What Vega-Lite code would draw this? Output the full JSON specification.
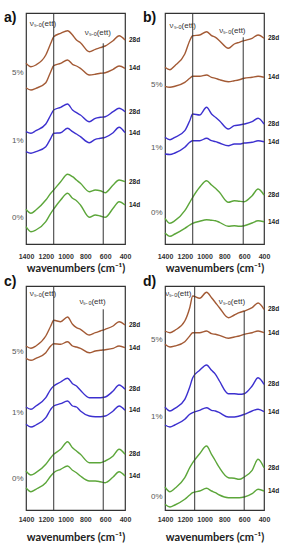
{
"$schema":"https://vega.github.io/schema/vega-lite/v6.json",
"padding":{"left":3,"top":9,"right":0,"bottom":0},
"background":"white",
"bounds":"flush",
"columns":2,
"spacing":{"row":42,"column":40},
"config":{
 "view":{"stroke":"#333","strokeWidth":1.2},
 "axis":{"grid":false,"ticks":false,"domain":false,"labelFont":"Liberation Sans"},
 "axisX":{"labelFontSize":7,"labelFontWeight":"bold","labelFlush":false,"labelOverlap":false,"format":"d","labelColor":"#333","titleFont":"Lato","titleFontSize":11,"titleFontWeight":"bold","titleColor":"#222"},
 "axisY":{"labelFontSize":8,"labelColor":"#555","labelPadding":3},
 "title":{"anchor":"start","frame":"group","fontSize":14,"fontWeight":"bold","font":"Liberation Sans","color":"#111"}
},
"datasets":{
"vlines":[
{"p":"a","x":1120,"top":231},{"p":"a","x":620,"top":200.7},
{"p":"b","x":1120,"top":231},{"p":"b","x":610,"top":206.7},
{"p":"c","x":1120,"top":224},{"p":"c","x":620,"top":200.7},
{"p":"d","x":1100,"top":224},{"p":"d","x":600,"top":199}
],
"ann":[
{"p":"a","x":1229,"y":220,"t":"νₛ₋ₒ(ett)"},{"p":"a","x":675,"y":210.7,"t":"νₛ₋ₒ(ett)"},
{"p":"b","x":1221,"y":217.7,"t":"νₛ₋ₒ(ett)"},{"p":"b","x":719,"y":213.3,"t":"νₛ₋ₒ(ett)"},
{"p":"c","x":1229,"y":216.3,"t":"νₛ₋ₒ(ett)"},{"p":"c","x":728,"y":208.3,"t":"νₛ₋ₒ(ett)"},
{"p":"d","x":1266,"y":215.7,"t":"νₛ₋ₒ(ett)"},{"p":"d","x":724,"y":208.3,"t":"νₛ₋ₒ(ett)"}
],
"curves":[
{"p":"a","c":"5%","d":"28d","x":1400,"y":180.7},{"p":"a","c":"5%","d":"28d","x":1350,"y":177.3},{"p":"a","c":"5%","d":"28d","x":1300,"y":179},{"p":"a","c":"5%","d":"28d","x":1200,"y":189},{"p":"a","c":"5%","d":"28d","x":1150,"y":200.7},{"p":"a","c":"5%","d":"28d","x":1120,"y":207.3},{"p":"a","c":"5%","d":"28d","x":1050,"y":210.7},{"p":"a","c":"5%","d":"28d","x":980,"y":213.3},{"p":"a","c":"5%","d":"28d","x":930,"y":209},{"p":"a","c":"5%","d":"28d","x":890,"y":204},{"p":"a","c":"5%","d":"28d","x":850,"y":201.3},{"p":"a","c":"5%","d":"28d","x":760,"y":192.3},{"p":"a","c":"5%","d":"28d","x":700,"y":194.7},{"p":"a","c":"5%","d":"28d","x":650,"y":196.3},{"p":"a","c":"5%","d":"28d","x":600,"y":198},{"p":"a","c":"5%","d":"28d","x":520,"y":203.3},{"p":"a","c":"5%","d":"28d","x":460,"y":208.3},{"p":"a","c":"5%","d":"28d","x":400,"y":204},
{"p":"a","c":"5%","d":"14d","x":1400,"y":156.3},{"p":"a","c":"5%","d":"14d","x":1350,"y":154},{"p":"a","c":"5%","d":"14d","x":1300,"y":155.7},{"p":"a","c":"5%","d":"14d","x":1200,"y":161.3},{"p":"a","c":"5%","d":"14d","x":1150,"y":172.3},{"p":"a","c":"5%","d":"14d","x":1120,"y":178.3},{"p":"a","c":"5%","d":"14d","x":1050,"y":180.7},{"p":"a","c":"5%","d":"14d","x":980,"y":184},{"p":"a","c":"5%","d":"14d","x":930,"y":179.7},{"p":"a","c":"5%","d":"14d","x":890,"y":178},{"p":"a","c":"5%","d":"14d","x":850,"y":175.7},{"p":"a","c":"5%","d":"14d","x":760,"y":169},{"p":"a","c":"5%","d":"14d","x":700,"y":169.7},{"p":"a","c":"5%","d":"14d","x":650,"y":170.7},{"p":"a","c":"5%","d":"14d","x":600,"y":171.3},{"p":"a","c":"5%","d":"14d","x":520,"y":174.7},{"p":"a","c":"5%","d":"14d","x":460,"y":178},{"p":"a","c":"5%","d":"14d","x":400,"y":175.7},
{"p":"a","c":"1%","d":"28d","x":1400,"y":112.3},{"p":"a","c":"1%","d":"28d","x":1350,"y":110.7},{"p":"a","c":"1%","d":"28d","x":1300,"y":113.3},{"p":"a","c":"1%","d":"28d","x":1200,"y":120},{"p":"a","c":"1%","d":"28d","x":1150,"y":129},{"p":"a","c":"1%","d":"28d","x":1120,"y":134},{"p":"a","c":"1%","d":"28d","x":1050,"y":136.7},{"p":"a","c":"1%","d":"28d","x":980,"y":140},{"p":"a","c":"1%","d":"28d","x":930,"y":134},{"p":"a","c":"1%","d":"28d","x":890,"y":131.3},{"p":"a","c":"1%","d":"28d","x":850,"y":129},{"p":"a","c":"1%","d":"28d","x":760,"y":122.3},{"p":"a","c":"1%","d":"28d","x":700,"y":125.7},{"p":"a","c":"1%","d":"28d","x":650,"y":126.7},{"p":"a","c":"1%","d":"28d","x":600,"y":127.3},{"p":"a","c":"1%","d":"28d","x":520,"y":132.3},{"p":"a","c":"1%","d":"28d","x":460,"y":135.7},{"p":"a","c":"1%","d":"28d","x":400,"y":132.3},
{"p":"a","c":"1%","d":"14d","x":1400,"y":92.3},{"p":"a","c":"1%","d":"14d","x":1350,"y":90.7},{"p":"a","c":"1%","d":"14d","x":1300,"y":92.3},{"p":"a","c":"1%","d":"14d","x":1200,"y":97.3},{"p":"a","c":"1%","d":"14d","x":1150,"y":105.7},{"p":"a","c":"1%","d":"14d","x":1120,"y":110.7},{"p":"a","c":"1%","d":"14d","x":1050,"y":111.3},{"p":"a","c":"1%","d":"14d","x":980,"y":115.7},{"p":"a","c":"1%","d":"14d","x":930,"y":112.3},{"p":"a","c":"1%","d":"14d","x":890,"y":110},{"p":"a","c":"1%","d":"14d","x":850,"y":107.3},{"p":"a","c":"1%","d":"14d","x":760,"y":101.3},{"p":"a","c":"1%","d":"14d","x":700,"y":104.7},{"p":"a","c":"1%","d":"14d","x":650,"y":105.7},{"p":"a","c":"1%","d":"14d","x":600,"y":106.7},{"p":"a","c":"1%","d":"14d","x":520,"y":111.3},{"p":"a","c":"1%","d":"14d","x":460,"y":116.7},{"p":"a","c":"1%","d":"14d","x":400,"y":111.3},
{"p":"a","c":"0%","d":"28d","x":1400,"y":34.7},{"p":"a","c":"0%","d":"28d","x":1350,"y":30.7},{"p":"a","c":"0%","d":"28d","x":1300,"y":34},{"p":"a","c":"0%","d":"28d","x":1200,"y":44},{"p":"a","c":"0%","d":"28d","x":1150,"y":50.7},{"p":"a","c":"0%","d":"28d","x":1120,"y":54},{"p":"a","c":"0%","d":"28d","x":1050,"y":62.3},{"p":"a","c":"0%","d":"28d","x":980,"y":69.7},{"p":"a","c":"0%","d":"28d","x":930,"y":67.3},{"p":"a","c":"0%","d":"28d","x":890,"y":64},{"p":"a","c":"0%","d":"28d","x":850,"y":60.7},{"p":"a","c":"0%","d":"28d","x":760,"y":52.3},{"p":"a","c":"0%","d":"28d","x":700,"y":54},{"p":"a","c":"0%","d":"28d","x":650,"y":53.3},{"p":"a","c":"0%","d":"28d","x":600,"y":51.3},{"p":"a","c":"0%","d":"28d","x":520,"y":59},{"p":"a","c":"0%","d":"28d","x":460,"y":64},{"p":"a","c":"0%","d":"28d","x":400,"y":62.3},
{"p":"a","c":"0%","d":"14d","x":1400,"y":17.3},{"p":"a","c":"0%","d":"14d","x":1350,"y":12.3},{"p":"a","c":"0%","d":"14d","x":1300,"y":14},{"p":"a","c":"0%","d":"14d","x":1200,"y":22.3},{"p":"a","c":"0%","d":"14d","x":1150,"y":30.7},{"p":"a","c":"0%","d":"14d","x":1120,"y":35},{"p":"a","c":"0%","d":"14d","x":1050,"y":44},{"p":"a","c":"0%","d":"14d","x":980,"y":50.7},{"p":"a","c":"0%","d":"14d","x":930,"y":45.7},{"p":"a","c":"0%","d":"14d","x":890,"y":43.3},{"p":"a","c":"0%","d":"14d","x":850,"y":39},{"p":"a","c":"0%","d":"14d","x":760,"y":26.7},{"p":"a","c":"0%","d":"14d","x":700,"y":29},{"p":"a","c":"0%","d":"14d","x":650,"y":28},{"p":"a","c":"0%","d":"14d","x":600,"y":26.7},{"p":"a","c":"0%","d":"14d","x":520,"y":35.7},{"p":"a","c":"0%","d":"14d","x":460,"y":42.3},{"p":"a","c":"0%","d":"14d","x":400,"y":39},
{"p":"b","c":"5%","d":"28d","x":1400,"y":176.7},{"p":"b","c":"5%","d":"28d","x":1350,"y":174.3},{"p":"b","c":"5%","d":"28d","x":1300,"y":178.3},{"p":"b","c":"5%","d":"28d","x":1200,"y":190},{"p":"b","c":"5%","d":"28d","x":1150,"y":203.3},{"p":"b","c":"5%","d":"28d","x":1120,"y":208.3},{"p":"b","c":"5%","d":"28d","x":1050,"y":209},{"p":"b","c":"5%","d":"28d","x":980,"y":212.3},{"p":"b","c":"5%","d":"28d","x":930,"y":208.3},{"p":"b","c":"5%","d":"28d","x":890,"y":206.7},{"p":"b","c":"5%","d":"28d","x":850,"y":203.3},{"p":"b","c":"5%","d":"28d","x":760,"y":195.7},{"p":"b","c":"5%","d":"28d","x":700,"y":200},{"p":"b","c":"5%","d":"28d","x":650,"y":201.7},{"p":"b","c":"5%","d":"28d","x":600,"y":203.3},{"p":"b","c":"5%","d":"28d","x":520,"y":205.7},{"p":"b","c":"5%","d":"28d","x":460,"y":209},{"p":"b","c":"5%","d":"28d","x":400,"y":205.7},
{"p":"b","c":"5%","d":"14d","x":1400,"y":157.7},{"p":"b","c":"5%","d":"14d","x":1350,"y":156.7},{"p":"b","c":"5%","d":"14d","x":1300,"y":157.7},{"p":"b","c":"5%","d":"14d","x":1200,"y":161.7},{"p":"b","c":"5%","d":"14d","x":1150,"y":165.7},{"p":"b","c":"5%","d":"14d","x":1120,"y":167.7},{"p":"b","c":"5%","d":"14d","x":1050,"y":167.7},{"p":"b","c":"5%","d":"14d","x":980,"y":169},{"p":"b","c":"5%","d":"14d","x":930,"y":166.7},{"p":"b","c":"5%","d":"14d","x":890,"y":165.7},{"p":"b","c":"5%","d":"14d","x":850,"y":164.3},{"p":"b","c":"5%","d":"14d","x":760,"y":162.3},{"p":"b","c":"5%","d":"14d","x":700,"y":163.3},{"p":"b","c":"5%","d":"14d","x":650,"y":164.3},{"p":"b","c":"5%","d":"14d","x":600,"y":165.7},{"p":"b","c":"5%","d":"14d","x":520,"y":166.7},{"p":"b","c":"5%","d":"14d","x":460,"y":167.7},{"p":"b","c":"5%","d":"14d","x":400,"y":166.7},
{"p":"b","c":"1%","d":"28d","x":1400,"y":106.7},{"p":"b","c":"1%","d":"28d","x":1350,"y":104.3},{"p":"b","c":"1%","d":"28d","x":1300,"y":106.7},{"p":"b","c":"1%","d":"28d","x":1200,"y":113.3},{"p":"b","c":"1%","d":"28d","x":1150,"y":123.3},{"p":"b","c":"1%","d":"28d","x":1120,"y":130},{"p":"b","c":"1%","d":"28d","x":1050,"y":129},{"p":"b","c":"1%","d":"28d","x":980,"y":136.7},{"p":"b","c":"1%","d":"28d","x":930,"y":130},{"p":"b","c":"1%","d":"28d","x":890,"y":126.7},{"p":"b","c":"1%","d":"28d","x":850,"y":123.3},{"p":"b","c":"1%","d":"28d","x":760,"y":115},{"p":"b","c":"1%","d":"28d","x":700,"y":118.3},{"p":"b","c":"1%","d":"28d","x":650,"y":119},{"p":"b","c":"1%","d":"28d","x":600,"y":120},{"p":"b","c":"1%","d":"28d","x":520,"y":122.3},{"p":"b","c":"1%","d":"28d","x":460,"y":125.7},{"p":"b","c":"1%","d":"28d","x":400,"y":120},
{"p":"b","c":"1%","d":"14d","x":1400,"y":90},{"p":"b","c":"1%","d":"14d","x":1350,"y":89.5},{"p":"b","c":"1%","d":"14d","x":1300,"y":91},{"p":"b","c":"1%","d":"14d","x":1200,"y":96.7},{"p":"b","c":"1%","d":"14d","x":1150,"y":101.7},{"p":"b","c":"1%","d":"14d","x":1120,"y":103.3},{"p":"b","c":"1%","d":"14d","x":1050,"y":103.3},{"p":"b","c":"1%","d":"14d","x":980,"y":105.7},{"p":"b","c":"1%","d":"14d","x":930,"y":103.3},{"p":"b","c":"1%","d":"14d","x":890,"y":102.3},{"p":"b","c":"1%","d":"14d","x":850,"y":101},{"p":"b","c":"1%","d":"14d","x":760,"y":98.3},{"p":"b","c":"1%","d":"14d","x":700,"y":100},{"p":"b","c":"1%","d":"14d","x":650,"y":100},{"p":"b","c":"1%","d":"14d","x":600,"y":101},{"p":"b","c":"1%","d":"14d","x":520,"y":101.7},{"p":"b","c":"1%","d":"14d","x":460,"y":103.3},{"p":"b","c":"1%","d":"14d","x":400,"y":102.3},
{"p":"b","c":"0%","d":"28d","x":1400,"y":25.7},{"p":"b","c":"0%","d":"28d","x":1350,"y":20.7},{"p":"b","c":"0%","d":"28d","x":1300,"y":23.3},{"p":"b","c":"0%","d":"28d","x":1200,"y":33.3},{"p":"b","c":"0%","d":"28d","x":1150,"y":41.7},{"p":"b","c":"0%","d":"28d","x":1120,"y":46.7},{"p":"b","c":"0%","d":"28d","x":1050,"y":56.7},{"p":"b","c":"0%","d":"28d","x":980,"y":63.3},{"p":"b","c":"0%","d":"28d","x":930,"y":59},{"p":"b","c":"0%","d":"28d","x":890,"y":55.7},{"p":"b","c":"0%","d":"28d","x":850,"y":51.7},{"p":"b","c":"0%","d":"28d","x":760,"y":41.7},{"p":"b","c":"0%","d":"28d","x":700,"y":43.3},{"p":"b","c":"0%","d":"28d","x":650,"y":42.7},{"p":"b","c":"0%","d":"28d","x":600,"y":42.3},{"p":"b","c":"0%","d":"28d","x":520,"y":48.3},{"p":"b","c":"0%","d":"28d","x":460,"y":55},{"p":"b","c":"0%","d":"28d","x":400,"y":49},
{"p":"b","c":"0%","d":"14d","x":1400,"y":11},{"p":"b","c":"0%","d":"14d","x":1350,"y":7.7},{"p":"b","c":"0%","d":"14d","x":1300,"y":10},{"p":"b","c":"0%","d":"14d","x":1200,"y":15.7},{"p":"b","c":"0%","d":"14d","x":1150,"y":19},{"p":"b","c":"0%","d":"14d","x":1120,"y":20.7},{"p":"b","c":"0%","d":"14d","x":1050,"y":22.7},{"p":"b","c":"0%","d":"14d","x":980,"y":24.3},{"p":"b","c":"0%","d":"14d","x":930,"y":23.7},{"p":"b","c":"0%","d":"14d","x":890,"y":23.3},{"p":"b","c":"0%","d":"14d","x":850,"y":21.7},{"p":"b","c":"0%","d":"14d","x":760,"y":17.7},{"p":"b","c":"0%","d":"14d","x":700,"y":18.3},{"p":"b","c":"0%","d":"14d","x":650,"y":17.7},{"p":"b","c":"0%","d":"14d","x":600,"y":18.3},{"p":"b","c":"0%","d":"14d","x":520,"y":21},{"p":"b","c":"0%","d":"14d","x":460,"y":23.3},{"p":"b","c":"0%","d":"14d","x":400,"y":22.3},
{"p":"c","c":"5%","d":"28d","x":1400,"y":164},{"p":"c","c":"5%","d":"28d","x":1350,"y":161.7},{"p":"c","c":"5%","d":"28d","x":1300,"y":164},{"p":"c","c":"5%","d":"28d","x":1200,"y":174},{"p":"c","c":"5%","d":"28d","x":1150,"y":184},{"p":"c","c":"5%","d":"28d","x":1120,"y":189.7},{"p":"c","c":"5%","d":"28d","x":1050,"y":188.3},{"p":"c","c":"5%","d":"28d","x":980,"y":193},{"p":"c","c":"5%","d":"28d","x":930,"y":185.7},{"p":"c","c":"5%","d":"28d","x":890,"y":182.3},{"p":"c","c":"5%","d":"28d","x":850,"y":180.7},{"p":"c","c":"5%","d":"28d","x":760,"y":175},{"p":"c","c":"5%","d":"28d","x":700,"y":177.3},{"p":"c","c":"5%","d":"28d","x":650,"y":179},{"p":"c","c":"5%","d":"28d","x":600,"y":180.7},{"p":"c","c":"5%","d":"28d","x":520,"y":184},{"p":"c","c":"5%","d":"28d","x":460,"y":188.3},{"p":"c","c":"5%","d":"28d","x":400,"y":185},
{"p":"c","c":"5%","d":"14d","x":1400,"y":151.7},{"p":"c","c":"5%","d":"14d","x":1350,"y":149.7},{"p":"c","c":"5%","d":"14d","x":1300,"y":151.7},{"p":"c","c":"5%","d":"14d","x":1200,"y":157.3},{"p":"c","c":"5%","d":"14d","x":1150,"y":164},{"p":"c","c":"5%","d":"14d","x":1120,"y":166.3},{"p":"c","c":"5%","d":"14d","x":1050,"y":165.7},{"p":"c","c":"5%","d":"14d","x":980,"y":168.3},{"p":"c","c":"5%","d":"14d","x":930,"y":164},{"p":"c","c":"5%","d":"14d","x":890,"y":163},{"p":"c","c":"5%","d":"14d","x":850,"y":161.7},{"p":"c","c":"5%","d":"14d","x":760,"y":157.3},{"p":"c","c":"5%","d":"14d","x":700,"y":159},{"p":"c","c":"5%","d":"14d","x":650,"y":159.7},{"p":"c","c":"5%","d":"14d","x":600,"y":160.3},{"p":"c","c":"5%","d":"14d","x":520,"y":161.7},{"p":"c","c":"5%","d":"14d","x":460,"y":164},{"p":"c","c":"5%","d":"14d","x":400,"y":162.3},
{"p":"c","c":"1%","d":"28d","x":1400,"y":103},{"p":"c","c":"1%","d":"28d","x":1350,"y":100.7},{"p":"c","c":"1%","d":"28d","x":1300,"y":104},{"p":"c","c":"1%","d":"28d","x":1200,"y":112.3},{"p":"c","c":"1%","d":"28d","x":1150,"y":120.7},{"p":"c","c":"1%","d":"28d","x":1120,"y":124},{"p":"c","c":"1%","d":"28d","x":1050,"y":128},{"p":"c","c":"1%","d":"28d","x":980,"y":131.7},{"p":"c","c":"1%","d":"28d","x":930,"y":126.3},{"p":"c","c":"1%","d":"28d","x":890,"y":124},{"p":"c","c":"1%","d":"28d","x":850,"y":119.7},{"p":"c","c":"1%","d":"28d","x":760,"y":112.3},{"p":"c","c":"1%","d":"28d","x":700,"y":112.3},{"p":"c","c":"1%","d":"28d","x":650,"y":112.3},{"p":"c","c":"1%","d":"28d","x":600,"y":113},{"p":"c","c":"1%","d":"28d","x":520,"y":119},{"p":"c","c":"1%","d":"28d","x":460,"y":125},{"p":"c","c":"1%","d":"28d","x":400,"y":120.7},
{"p":"c","c":"1%","d":"14d","x":1400,"y":85.7},{"p":"c","c":"1%","d":"14d","x":1350,"y":83},{"p":"c","c":"1%","d":"14d","x":1300,"y":85},{"p":"c","c":"1%","d":"14d","x":1200,"y":92.3},{"p":"c","c":"1%","d":"14d","x":1150,"y":100.7},{"p":"c","c":"1%","d":"14d","x":1120,"y":104},{"p":"c","c":"1%","d":"14d","x":1050,"y":106.3},{"p":"c","c":"1%","d":"14d","x":980,"y":109},{"p":"c","c":"1%","d":"14d","x":930,"y":104},{"p":"c","c":"1%","d":"14d","x":890,"y":103},{"p":"c","c":"1%","d":"14d","x":850,"y":99},{"p":"c","c":"1%","d":"14d","x":760,"y":94},{"p":"c","c":"1%","d":"14d","x":700,"y":93.3},{"p":"c","c":"1%","d":"14d","x":650,"y":93.3},{"p":"c","c":"1%","d":"14d","x":600,"y":94},{"p":"c","c":"1%","d":"14d","x":520,"y":99},{"p":"c","c":"1%","d":"14d","x":460,"y":104},{"p":"c","c":"1%","d":"14d","x":400,"y":99.7},
{"p":"c","c":"0%","d":"28d","x":1400,"y":39},{"p":"c","c":"0%","d":"28d","x":1350,"y":35},{"p":"c","c":"0%","d":"28d","x":1300,"y":37.3},{"p":"c","c":"0%","d":"28d","x":1200,"y":45.7},{"p":"c","c":"0%","d":"28d","x":1150,"y":52.3},{"p":"c","c":"0%","d":"28d","x":1120,"y":55.7},{"p":"c","c":"0%","d":"28d","x":1050,"y":60.7},{"p":"c","c":"0%","d":"28d","x":980,"y":68.3},{"p":"c","c":"0%","d":"28d","x":930,"y":62.3},{"p":"c","c":"0%","d":"28d","x":890,"y":59},{"p":"c","c":"0%","d":"28d","x":850,"y":55.7},{"p":"c","c":"0%","d":"28d","x":760,"y":47.3},{"p":"c","c":"0%","d":"28d","x":700,"y":47.3},{"p":"c","c":"0%","d":"28d","x":650,"y":47.3},{"p":"c","c":"0%","d":"28d","x":600,"y":49},{"p":"c","c":"0%","d":"28d","x":520,"y":54},{"p":"c","c":"0%","d":"28d","x":460,"y":60.7},{"p":"c","c":"0%","d":"28d","x":400,"y":55.7},
{"p":"c","c":"0%","d":"14d","x":1400,"y":22.3},{"p":"c","c":"0%","d":"14d","x":1350,"y":18.3},{"p":"c","c":"0%","d":"14d","x":1300,"y":20.7},{"p":"c","c":"0%","d":"14d","x":1200,"y":27.3},{"p":"c","c":"0%","d":"14d","x":1150,"y":34},{"p":"c","c":"0%","d":"14d","x":1120,"y":37.3},{"p":"c","c":"0%","d":"14d","x":1050,"y":40.7},{"p":"c","c":"0%","d":"14d","x":980,"y":44},{"p":"c","c":"0%","d":"14d","x":930,"y":39.7},{"p":"c","c":"0%","d":"14d","x":890,"y":37.3},{"p":"c","c":"0%","d":"14d","x":850,"y":34},{"p":"c","c":"0%","d":"14d","x":760,"y":29},{"p":"c","c":"0%","d":"14d","x":700,"y":29},{"p":"c","c":"0%","d":"14d","x":650,"y":28.3},{"p":"c","c":"0%","d":"14d","x":600,"y":27.3},{"p":"c","c":"0%","d":"14d","x":520,"y":33},{"p":"c","c":"0%","d":"14d","x":460,"y":38.3},{"p":"c","c":"0%","d":"14d","x":400,"y":34},
{"p":"d","c":"5%","d":"28d","x":1400,"y":179},{"p":"d","c":"5%","d":"28d","x":1350,"y":177.3},{"p":"d","c":"5%","d":"28d","x":1300,"y":179.7},{"p":"d","c":"5%","d":"28d","x":1200,"y":189},{"p":"d","c":"5%","d":"28d","x":1150,"y":202.3},{"p":"d","c":"5%","d":"28d","x":1120,"y":214},{"p":"d","c":"5%","d":"28d","x":1050,"y":211.7},{"p":"d","c":"5%","d":"28d","x":980,"y":217.7},{"p":"d","c":"5%","d":"28d","x":930,"y":212.3},{"p":"d","c":"5%","d":"28d","x":890,"y":207.3},{"p":"d","c":"5%","d":"28d","x":850,"y":202.3},{"p":"d","c":"5%","d":"28d","x":760,"y":192.3},{"p":"d","c":"5%","d":"28d","x":700,"y":195},{"p":"d","c":"5%","d":"28d","x":650,"y":197.3},{"p":"d","c":"5%","d":"28d","x":600,"y":199},{"p":"d","c":"5%","d":"28d","x":520,"y":202.3},{"p":"d","c":"5%","d":"28d","x":460,"y":207},{"p":"d","c":"5%","d":"28d","x":400,"y":200.7},
{"p":"d","c":"5%","d":"14d","x":1400,"y":165.7},{"p":"d","c":"5%","d":"14d","x":1350,"y":163},{"p":"d","c":"5%","d":"14d","x":1300,"y":164},{"p":"d","c":"5%","d":"14d","x":1200,"y":168.3},{"p":"d","c":"5%","d":"14d","x":1150,"y":174},{"p":"d","c":"5%","d":"14d","x":1120,"y":177.3},{"p":"d","c":"5%","d":"14d","x":1050,"y":177.3},{"p":"d","c":"5%","d":"14d","x":980,"y":179},{"p":"d","c":"5%","d":"14d","x":930,"y":176.3},{"p":"d","c":"5%","d":"14d","x":890,"y":175.7},{"p":"d","c":"5%","d":"14d","x":850,"y":174.7},{"p":"d","c":"5%","d":"14d","x":760,"y":171.7},{"p":"d","c":"5%","d":"14d","x":700,"y":173},{"p":"d","c":"5%","d":"14d","x":650,"y":174},{"p":"d","c":"5%","d":"14d","x":600,"y":175.7},{"p":"d","c":"5%","d":"14d","x":520,"y":177.3},{"p":"d","c":"5%","d":"14d","x":460,"y":179},{"p":"d","c":"5%","d":"14d","x":400,"y":177.3},
{"p":"d","c":"1%","d":"28d","x":1400,"y":103},{"p":"d","c":"1%","d":"28d","x":1350,"y":99},{"p":"d","c":"1%","d":"28d","x":1300,"y":101.7},{"p":"d","c":"1%","d":"28d","x":1200,"y":110.7},{"p":"d","c":"1%","d":"28d","x":1150,"y":123},{"p":"d","c":"1%","d":"28d","x":1120,"y":132.3},{"p":"d","c":"1%","d":"28d","x":1050,"y":139.7},{"p":"d","c":"1%","d":"28d","x":980,"y":145},{"p":"d","c":"1%","d":"28d","x":930,"y":139.7},{"p":"d","c":"1%","d":"28d","x":890,"y":135.7},{"p":"d","c":"1%","d":"28d","x":850,"y":129},{"p":"d","c":"1%","d":"28d","x":760,"y":116.3},{"p":"d","c":"1%","d":"28d","x":700,"y":116.3},{"p":"d","c":"1%","d":"28d","x":650,"y":115.7},{"p":"d","c":"1%","d":"28d","x":600,"y":116.3},{"p":"d","c":"1%","d":"28d","x":520,"y":124},{"p":"d","c":"1%","d":"28d","x":460,"y":132.3},{"p":"d","c":"1%","d":"28d","x":400,"y":125.7},
{"p":"d","c":"1%","d":"14d","x":1400,"y":85},{"p":"d","c":"1%","d":"14d","x":1350,"y":83},{"p":"d","c":"1%","d":"14d","x":1300,"y":85},{"p":"d","c":"1%","d":"14d","x":1200,"y":90.7},{"p":"d","c":"1%","d":"14d","x":1150,"y":95.7},{"p":"d","c":"1%","d":"14d","x":1120,"y":97.3},{"p":"d","c":"1%","d":"14d","x":1050,"y":99.7},{"p":"d","c":"1%","d":"14d","x":980,"y":102.3},{"p":"d","c":"1%","d":"14d","x":930,"y":99.7},{"p":"d","c":"1%","d":"14d","x":890,"y":99},{"p":"d","c":"1%","d":"14d","x":850,"y":97.3},{"p":"d","c":"1%","d":"14d","x":760,"y":93},{"p":"d","c":"1%","d":"14d","x":700,"y":93},{"p":"d","c":"1%","d":"14d","x":650,"y":94},{"p":"d","c":"1%","d":"14d","x":600,"y":95.7},{"p":"d","c":"1%","d":"14d","x":520,"y":99},{"p":"d","c":"1%","d":"14d","x":460,"y":100.7},{"p":"d","c":"1%","d":"14d","x":400,"y":98.3},
{"p":"d","c":"0%","d":"28d","x":1400,"y":23},{"p":"d","c":"0%","d":"28d","x":1350,"y":18.3},{"p":"d","c":"0%","d":"28d","x":1300,"y":21.7},{"p":"d","c":"0%","d":"28d","x":1200,"y":32.3},{"p":"d","c":"0%","d":"28d","x":1150,"y":42.3},{"p":"d","c":"0%","d":"28d","x":1120,"y":47.3},{"p":"d","c":"0%","d":"28d","x":1050,"y":56.3},{"p":"d","c":"0%","d":"28d","x":980,"y":64},{"p":"d","c":"0%","d":"28d","x":930,"y":55.7},{"p":"d","c":"0%","d":"28d","x":890,"y":49},{"p":"d","c":"0%","d":"28d","x":850,"y":42.3},{"p":"d","c":"0%","d":"28d","x":760,"y":32.3},{"p":"d","c":"0%","d":"28d","x":700,"y":31.7},{"p":"d","c":"0%","d":"28d","x":650,"y":30.7},{"p":"d","c":"0%","d":"28d","x":600,"y":33},{"p":"d","c":"0%","d":"28d","x":520,"y":39.7},{"p":"d","c":"0%","d":"28d","x":460,"y":50.7},{"p":"d","c":"0%","d":"28d","x":400,"y":42.3},
{"p":"d","c":"0%","d":"14d","x":1400,"y":5.7},{"p":"d","c":"0%","d":"14d","x":1350,"y":3},{"p":"d","c":"0%","d":"14d","x":1300,"y":5},{"p":"d","c":"0%","d":"14d","x":1200,"y":10.7},{"p":"d","c":"0%","d":"14d","x":1150,"y":15},{"p":"d","c":"0%","d":"14d","x":1120,"y":17.3},{"p":"d","c":"0%","d":"14d","x":1050,"y":19},{"p":"d","c":"0%","d":"14d","x":980,"y":21.7},{"p":"d","c":"0%","d":"14d","x":930,"y":19},{"p":"d","c":"0%","d":"14d","x":890,"y":17.3},{"p":"d","c":"0%","d":"14d","x":850,"y":15},{"p":"d","c":"0%","d":"14d","x":760,"y":12.3},{"p":"d","c":"0%","d":"14d","x":700,"y":12.3},{"p":"d","c":"0%","d":"14d","x":650,"y":12.3},{"p":"d","c":"0%","d":"14d","x":600,"y":13},{"p":"d","c":"0%","d":"14d","x":520,"y":16.3},{"p":"d","c":"0%","d":"14d","x":460,"y":20.7},{"p":"d","c":"0%","d":"14d","x":400,"y":19}
]},
"concat":[
 {"width":99,"height":231,
  "title":{"text":"a)","dx":-22,"offset":-12},
  "layer":[
   {"data":{"name":"curves"},"transform":[{"filter":"datum.p=='a'"}],
    "mark":{"type":"line","interpolate":"monotone","strokeWidth":1.4},
    "encoding":{
     "x":{"field":"x","type":"quantitative","scale":{"domain":[1400,400],"nice":false,"zero":false},"axis":{"values":[1400,1200,1000,800,600,400],"tickCount":10,"labelOverlap":false,"labelPadding":8,"title":"wavenumbers (cm⁻¹)","titlePadding":3}},
     "y":{"field":"y","type":"quantitative","scale":{"domain":[0,231],"nice":false,"zero":false},"axis":{"values":[171.3,103.3,26.7],"tickCount":10,"labelExpr":"datum.value>140?'5%':datum.value>60?'1%':'0%'","title":null}},
     "color":{"field":"c","type":"nominal","scale":{"domain":["5%","1%","0%"],"range":["#a35a35","#3c30cf","#5ca63a"]},"legend":null},
     "detail":{"field":"d","type":"nominal"}}},
   {"data":{"name":"vlines"},"transform":[{"filter":"datum.p=='a'"}],
    "mark":{"type":"rule","color":"#333","strokeWidth":1},
    "encoding":{"x":{"field":"x","type":"quantitative"},"y":{"field":"top","type":"quantitative"},"y2":{"datum":0}}},
   {"data":{"name":"ann"},"transform":[{"filter":"datum.p=='a'"}],
    "mark":{"type":"text","fontSize":8,"color":"#333","font":"Liberation Sans"},
    "encoding":{"x":{"field":"x","type":"quantitative"},"y":{"field":"y","type":"quantitative"},"text":{"field":"t","type":"nominal"}}},
   {"data":{"name":"curves"},"transform":[{"filter":"datum.p=='a' && datum.x==400"}],
    "mark":{"type":"text","align":"left","dx":4,"fontSize":6.5,"fontWeight":"bold","color":"#222","font":"Liberation Sans"},
    "encoding":{"x":{"field":"x","type":"quantitative"},"y":{"field":"y","type":"quantitative"},"text":{"field":"d","type":"nominal"}}}
  ]},
 {"width":99,"height":231,
  "title":{"text":"b)","dx":-22,"offset":-12},
  "layer":[
   {"data":{"name":"curves"},"transform":[{"filter":"datum.p=='b'"}],
    "mark":{"type":"line","interpolate":"monotone","strokeWidth":1.4},
    "encoding":{
     "x":{"field":"x","type":"quantitative","scale":{"domain":[1400,400],"nice":false,"zero":false},"axis":{"values":[1400,1200,1000,800,600,400],"tickCount":10,"labelOverlap":false,"labelPadding":8,"title":"wavenumbers (cm⁻¹)","titlePadding":3}},
     "y":{"field":"y","type":"quantitative","scale":{"domain":[0,231],"nice":false,"zero":false},"axis":{"values":[160,96.7,31.7],"tickCount":10,"labelExpr":"datum.value>140?'5%':datum.value>60?'1%':'0%'","title":null}},
     "color":{"field":"c","type":"nominal","scale":{"domain":["5%","1%","0%"],"range":["#a35a35","#3c30cf","#5ca63a"]},"legend":null},
     "detail":{"field":"d","type":"nominal"}}},
   {"data":{"name":"vlines"},"transform":[{"filter":"datum.p=='b'"}],
    "mark":{"type":"rule","color":"#333","strokeWidth":1},
    "encoding":{"x":{"field":"x","type":"quantitative"},"y":{"field":"top","type":"quantitative"},"y2":{"datum":0}}},
   {"data":{"name":"ann"},"transform":[{"filter":"datum.p=='b'"}],
    "mark":{"type":"text","fontSize":8,"color":"#333","font":"Liberation Sans"},
    "encoding":{"x":{"field":"x","type":"quantitative"},"y":{"field":"y","type":"quantitative"},"text":{"field":"t","type":"nominal"}}},
   {"data":{"name":"curves"},"transform":[{"filter":"datum.p=='b' && datum.x==400"}],
    "mark":{"type":"text","align":"left","dx":4,"fontSize":6.5,"fontWeight":"bold","color":"#222","font":"Liberation Sans"},
    "encoding":{"x":{"field":"x","type":"quantitative"},"y":{"field":"y","type":"quantitative"},"text":{"field":"d","type":"nominal"}}}
  ]},
 {"width":99,"height":224,
  "title":{"text":"c)","dx":-22,"offset":-3},
  "layer":[
   {"data":{"name":"curves"},"transform":[{"filter":"datum.p=='c'"}],
    "mark":{"type":"line","interpolate":"monotone","strokeWidth":1.4},
    "encoding":{
     "x":{"field":"x","type":"quantitative","scale":{"domain":[1400,400],"nice":false,"zero":false},"axis":{"values":[1400,1200,1000,800,600,400],"tickCount":10,"labelOverlap":false,"labelPadding":5,"title":"wavenumbers (cm⁻¹)","titlePadding":9}},
     "y":{"field":"y","type":"quantitative","scale":{"domain":[0,224],"nice":false,"zero":false},"axis":{"values":[159,97.3,31.7],"tickCount":10,"labelExpr":"datum.value>140?'5%':datum.value>60?'1%':'0%'","title":null}},
     "color":{"field":"c","type":"nominal","scale":{"domain":["5%","1%","0%"],"range":["#a35a35","#3c30cf","#5ca63a"]},"legend":null},
     "detail":{"field":"d","type":"nominal"}}},
   {"data":{"name":"vlines"},"transform":[{"filter":"datum.p=='c'"}],
    "mark":{"type":"rule","color":"#333","strokeWidth":1},
    "encoding":{"x":{"field":"x","type":"quantitative"},"y":{"field":"top","type":"quantitative"},"y2":{"datum":0}}},
   {"data":{"name":"ann"},"transform":[{"filter":"datum.p=='c'"}],
    "mark":{"type":"text","fontSize":8,"color":"#333","font":"Liberation Sans"},
    "encoding":{"x":{"field":"x","type":"quantitative"},"y":{"field":"y","type":"quantitative"},"text":{"field":"t","type":"nominal"}}},
   {"data":{"name":"curves"},"transform":[{"filter":"datum.p=='c' && datum.x==400"}],
    "mark":{"type":"text","align":"left","dx":4,"fontSize":6.5,"fontWeight":"bold","color":"#222","font":"Liberation Sans"},
    "encoding":{"x":{"field":"x","type":"quantitative"},"y":{"field":"y","type":"quantitative"},"text":{"field":"d","type":"nominal"}}}
  ]},
 {"width":99,"height":224,
  "title":{"text":"d)","dx":-22,"offset":-3},
  "layer":[
   {"data":{"name":"curves"},"transform":[{"filter":"datum.p=='d'"}],
    "mark":{"type":"line","interpolate":"monotone","strokeWidth":1.4},
    "encoding":{
     "x":{"field":"x","type":"quantitative","scale":{"domain":[1400,400],"nice":false,"zero":false},"axis":{"values":[1400,1200,1000,800,600,400],"tickCount":10,"labelOverlap":false,"labelPadding":5,"title":"wavenumbers (cm⁻¹)","titlePadding":9}},
     "y":{"field":"y","type":"quantitative","scale":{"domain":[0,224],"nice":false,"zero":false},"axis":{"values":[170.7,93.3,13.3],"tickCount":10,"labelExpr":"datum.value>140?'5%':datum.value>60?'1%':'0%'","title":null}},
     "color":{"field":"c","type":"nominal","scale":{"domain":["5%","1%","0%"],"range":["#a35a35","#3c30cf","#5ca63a"]},"legend":null},
     "detail":{"field":"d","type":"nominal"}}},
   {"data":{"name":"vlines"},"transform":[{"filter":"datum.p=='d'"}],
    "mark":{"type":"rule","color":"#333","strokeWidth":1},
    "encoding":{"x":{"field":"x","type":"quantitative"},"y":{"field":"top","type":"quantitative"},"y2":{"datum":0}}},
   {"data":{"name":"ann"},"transform":[{"filter":"datum.p=='d'"}],
    "mark":{"type":"text","fontSize":8,"color":"#333","font":"Liberation Sans"},
    "encoding":{"x":{"field":"x","type":"quantitative"},"y":{"field":"y","type":"quantitative"},"text":{"field":"t","type":"nominal"}}},
   {"data":{"name":"curves"},"transform":[{"filter":"datum.p=='d' && datum.x==400"}],
    "mark":{"type":"text","align":"left","dx":4,"fontSize":6.5,"fontWeight":"bold","color":"#222","font":"Liberation Sans"},
    "encoding":{"x":{"field":"x","type":"quantitative"},"y":{"field":"y","type":"quantitative"},"text":{"field":"d","type":"nominal"}}}
  ]}
]
}
